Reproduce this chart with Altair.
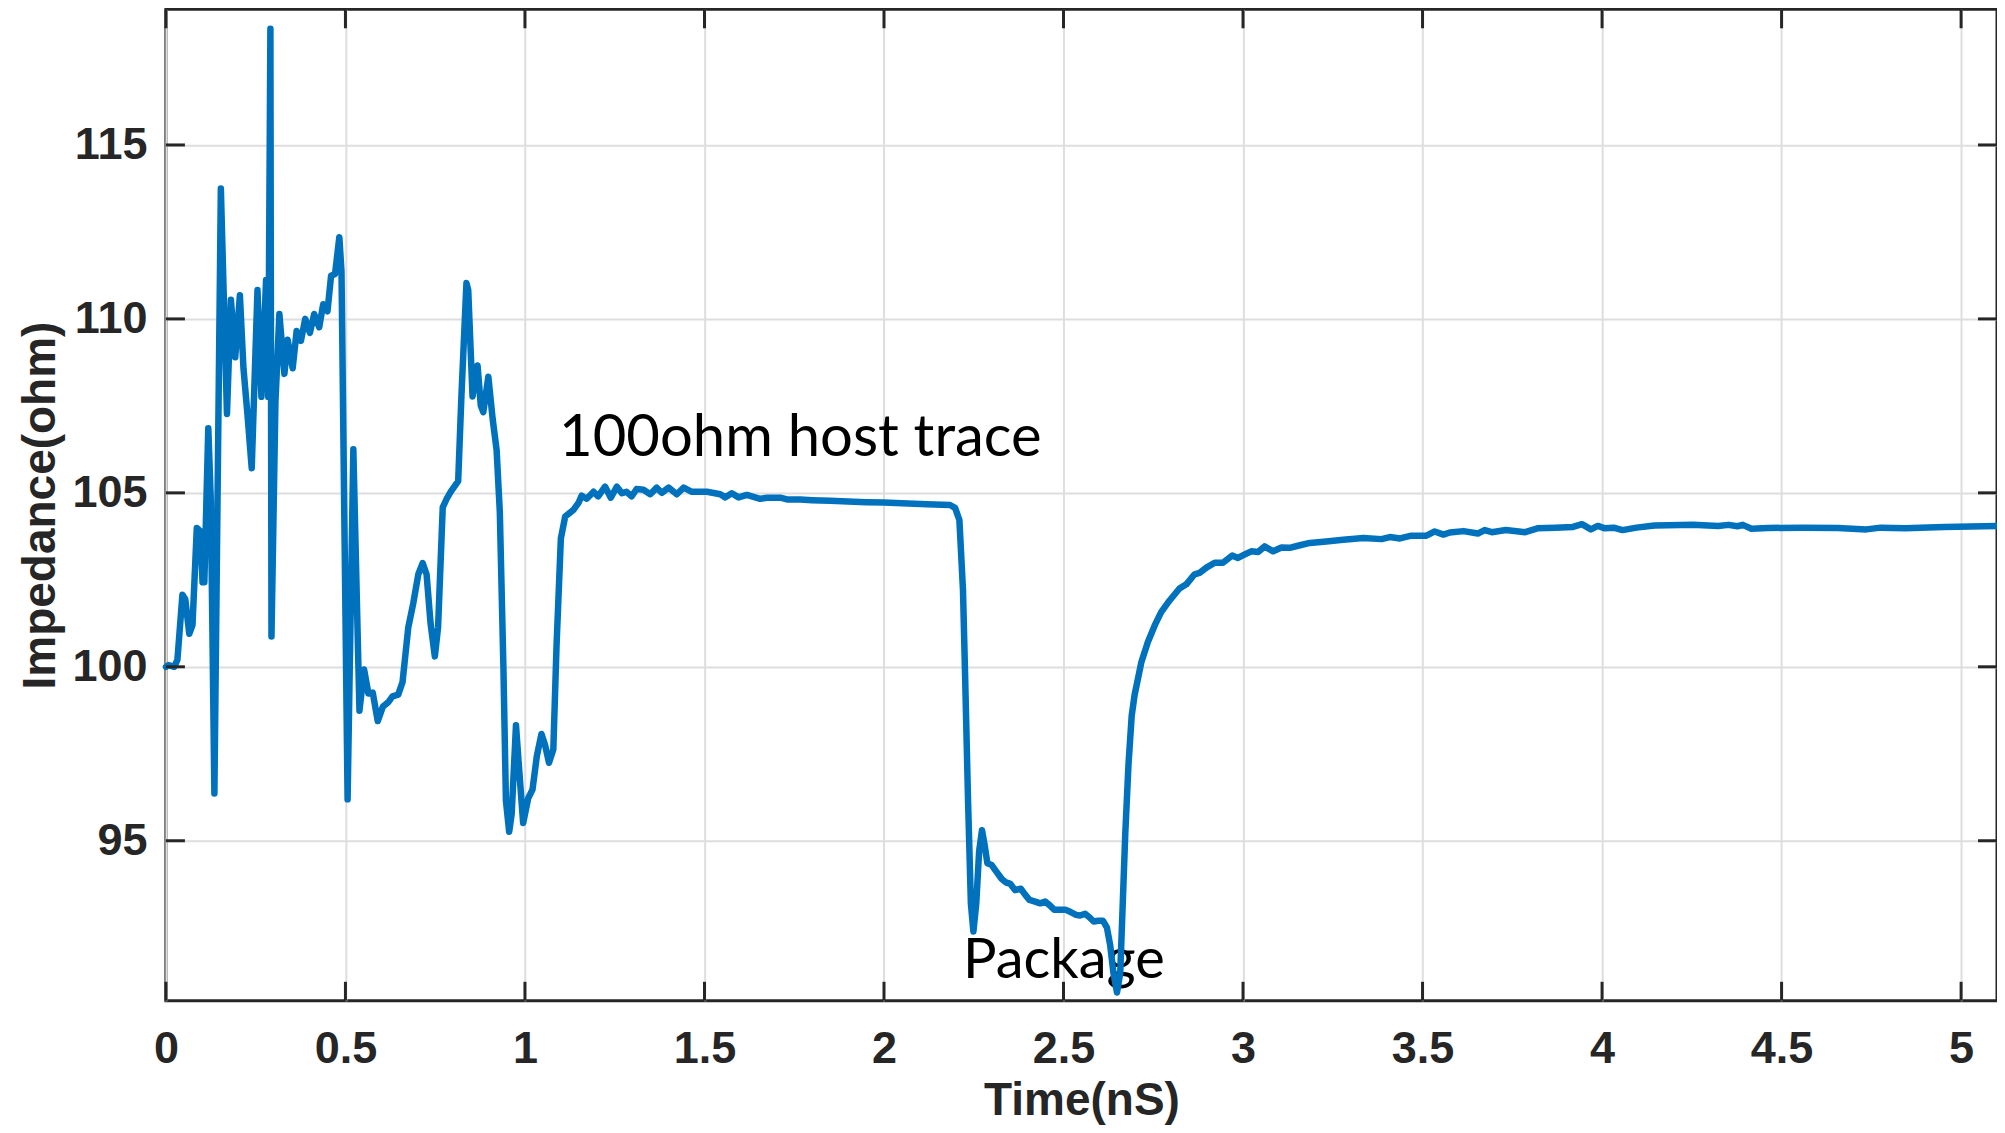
import altair as alt
import pandas as pd

# ---- data ----
time_ns = [
    0.000, 0.007, 0.023, 0.032, 0.046, 0.054, 0.065, 0.074, 0.086, 0.096,
    0.102, 0.107, 0.118, 0.125, 0.135, 0.153, 0.170, 0.181, 0.193, 0.206,
    0.216, 0.227, 0.239, 0.255, 0.266, 0.279, 0.285, 0.291, 0.294, 0.305,
    0.316, 0.330, 0.339, 0.353, 0.364, 0.376, 0.388, 0.401, 0.413, 0.427,
    0.438, 0.450, 0.460, 0.471, 0.483, 0.489, 0.506, 0.522, 0.539, 0.552,
    0.564, 0.576, 0.590, 0.604, 0.619, 0.631, 0.647, 0.659, 0.675, 0.689,
    0.703, 0.715, 0.726, 0.737, 0.749, 0.758, 0.771, 0.782, 0.793, 0.814,
    0.823, 0.837, 0.842, 0.854, 0.868, 0.877, 0.884, 0.898, 0.910, 0.921,
    0.930, 0.940, 0.947, 0.956, 0.963, 0.975, 0.983, 0.995, 1.009, 1.021,
    1.033, 1.046, 1.056, 1.067, 1.079, 1.088, 1.100, 1.112, 1.135, 1.149,
    1.158, 1.172, 1.191, 1.204, 1.223, 1.239, 1.256, 1.270, 1.283, 1.297,
    1.311, 1.330, 1.349, 1.367, 1.381, 1.400, 1.423, 1.442, 1.465, 1.507,
    1.544, 1.558, 1.576, 1.595, 1.618, 1.655, 1.674, 1.711, 1.730, 1.767,
    1.800, 1.850, 1.900, 1.950, 2.000, 2.050, 2.119, 2.184, 2.198, 2.210,
    2.220, 2.226, 2.234, 2.242, 2.249, 2.257, 2.265, 2.273, 2.280, 2.288,
    2.300, 2.314, 2.328, 2.340, 2.351, 2.365, 2.381, 2.393, 2.405, 2.421,
    2.435, 2.449, 2.461, 2.474, 2.489, 2.505, 2.520, 2.535, 2.546, 2.560,
    2.572, 2.584, 2.597, 2.610, 2.621, 2.630, 2.639, 2.649, 2.658, 2.665,
    2.672, 2.681, 2.690, 2.698, 2.717, 2.735, 2.754, 2.772, 2.795, 2.823,
    2.842, 2.865, 2.879, 2.898, 2.921, 2.944, 2.970, 2.986, 3.005, 3.023,
    3.042, 3.060, 3.084, 3.107, 3.130, 3.153, 3.186, 3.232, 3.279, 3.335,
    3.386, 3.409, 3.437, 3.469, 3.511, 3.534, 3.558, 3.576, 3.614, 3.654,
    3.673, 3.693, 3.732, 3.786, 3.820, 3.870, 3.919, 3.944, 3.969, 3.988,
    4.008, 4.032, 4.057, 4.096, 4.146, 4.254, 4.323, 4.352, 4.377, 4.392,
    4.416, 4.461, 4.559, 4.657, 4.736, 4.776, 4.844, 4.953, 5.100,
]
impedance_ohm = [
    100.00, 100.05, 100.00, 100.20, 102.07, 101.94, 100.95, 101.20, 103.99, 103.90,
    102.43, 102.43, 106.86, 104.80, 96.36, 113.75, 107.27, 110.55, 108.90, 110.68,
    108.58, 107.27, 105.71, 110.83, 107.76, 111.12, 107.76, 118.34, 100.87, 107.60,
    110.14, 108.42, 109.40, 108.58, 109.65, 109.37, 110.00, 109.60, 110.14, 109.76,
    110.42, 110.22, 111.24, 111.29, 112.35, 111.37, 96.19, 106.25, 98.74, 99.92,
    99.23, 99.26, 98.44, 98.85, 98.98, 99.15, 99.20, 99.56, 101.13, 101.83,
    102.66, 102.98, 102.66, 101.26, 100.30, 101.13, 104.58, 104.83, 105.03, 105.34,
    107.77, 111.03, 110.83, 107.77, 108.66, 107.51, 107.32, 108.34, 107.13, 106.24,
    104.45, 99.98, 96.15, 95.26, 95.77, 98.32, 97.17, 95.51, 96.22, 96.47,
    97.43, 98.07, 97.75, 97.24, 97.62, 100.62, 103.69, 104.32, 104.51, 104.71,
    104.92, 104.83, 105.03, 104.90, 105.18, 104.86, 105.18, 104.99, 105.03, 104.90,
    105.11, 105.09, 104.96, 105.15, 105.00, 105.15, 104.96, 105.15, 105.03, 105.03,
    104.96, 104.87, 104.99, 104.87, 104.94, 104.83, 104.86, 104.86, 104.81, 104.81,
    104.79, 104.77, 104.75, 104.73, 104.72, 104.70, 104.67, 104.65, 104.57, 104.22,
    102.21, 99.71, 96.20, 93.20, 92.39, 93.20, 94.70, 95.30, 94.90, 94.35,
    94.30, 94.10, 93.90, 93.80, 93.77, 93.58, 93.62, 93.45, 93.30, 93.25,
    93.20, 93.25, 93.15, 93.02, 93.02, 93.02, 92.95, 92.87, 92.85, 92.90,
    92.80, 92.68, 92.70, 92.70, 92.50, 92.00, 91.20, 90.64, 91.20, 93.20,
    95.20, 97.20, 98.60, 99.19, 100.14, 100.71, 101.19, 101.57, 101.90, 102.25,
    102.37, 102.66, 102.70, 102.85, 102.99, 102.99, 103.20, 103.13, 103.23, 103.32,
    103.30, 103.46, 103.32, 103.43, 103.42, 103.48, 103.56, 103.60, 103.65, 103.70,
    103.67, 103.73, 103.69, 103.77, 103.77, 103.89, 103.80, 103.86, 103.90, 103.83,
    103.93, 103.87, 103.93, 103.87, 103.98, 104.00, 104.02, 104.10, 103.95, 104.05,
    103.98, 104.00, 103.93, 104.00, 104.06, 104.08, 104.05, 104.08, 104.04, 104.08,
    103.97, 103.99, 104.00, 103.99, 103.95, 104.00, 103.98, 104.02, 104.05,
]
x_ticks = [0, 0.5, 1, 1.5, 2, 2.5, 3, 3.5, 4, 4.5, 5]
y_ticks = [95, 100, 105, 110, 115]
note_main_text = ["100ohm host trace"]
note_main_t = [1.095]
note_main_z = [106.06]
note_pkg_text = ["Package"]
note_pkg_t = [2.22]
note_pkg_z = [91.06]

# ---- chart ----
W, H = 1832, 992
DARK = "#262626"
GRID = "#dedede"
LABEL_FONT = "Liberation Sans"

df = pd.DataFrame({"t": time_ns, "z": impedance_ohm})
xs = alt.Scale(domain=[0, 5.1], nice=False, zero=False)
ys = alt.Scale(domain=[90.4, 118.9], nice=False, zero=False)

x_axis = alt.Axis(
    values=x_ticks, format="~g", title="Time(nS)", grid=True,
    gridColor=GRID, gridWidth=2, ticks=False, tickSize=0, domain=False,
    labelFont=LABEL_FONT, labelFontSize=45, labelFontWeight="bold",
    labelColor=DARK, labelPadding=26, labelFlush=False, labelOverlap=False,
    titleFont=LABEL_FONT, titleFontSize=46, titleFontWeight="bold",
    titleColor=DARK, titleBaseline="alphabetic", titleY=114,
)
y_axis = alt.Axis(
    values=y_ticks, format="~g", title="Impedance(ohm)", grid=True,
    gridColor=GRID, gridWidth=2, ticks=False, tickSize=0, domain=False,
    labelFont=LABEL_FONT, labelFontSize=45, labelFontWeight="bold",
    labelColor=DARK, labelPadding=19, labelFlush=False, labelOverlap=False,
    titleFont=LABEL_FONT, titleFontSize=46, titleFontWeight="bold",
    titleColor=DARK, titleBaseline="alphabetic", titleX=-111, titleY=H / 2,
    titleAlign="center",
)

line = alt.Chart(df).mark_line(
    color="#0072BD", strokeWidth=6.5, strokeJoin="round", strokeCap="round"
).encode(
    x=alt.X("t:Q", scale=xs, axis=x_axis),
    y=alt.Y("z:Q", scale=ys, axis=y_axis),
)

tx = pd.DataFrame({"t": x_ticks})
ty = pd.DataFrame({"z": y_ticks})
TL = 19
xb = alt.Chart(tx).mark_rule(color=DARK, strokeWidth=3).encode(
    x=alt.X("t:Q", scale=xs), y=alt.value(H), y2=alt.value(H - TL))
xt = alt.Chart(tx).mark_rule(color=DARK, strokeWidth=3).encode(
    x=alt.X("t:Q", scale=xs), y=alt.value(0), y2=alt.value(TL))
yl = alt.Chart(ty).mark_rule(color=DARK, strokeWidth=3).encode(
    y=alt.Y("z:Q", scale=ys), x=alt.value(0), x2=alt.value(TL))
yr = alt.Chart(ty).mark_rule(color=DARK, strokeWidth=3).encode(
    y=alt.Y("z:Q", scale=ys), x=alt.value(W), x2=alt.value(W - TL))

main_note = alt.Chart(pd.DataFrame({"t": note_main_t, "z": note_main_z, "s": note_main_text})).mark_text(
    align="left", baseline="alphabetic", font="Lato", fontSize=58, color="#000000"
).encode(x=alt.X("t:Q", scale=xs), y=alt.Y("z:Q", scale=ys), text="s:N")
pkg_note = alt.Chart(pd.DataFrame({"t": note_pkg_t, "z": note_pkg_z, "s": note_pkg_text})).mark_text(
    align="left", baseline="alphabetic", font="Lato", fontSize=56, color="#000000"
).encode(x=alt.X("t:Q", scale=xs), y=alt.Y("z:Q", scale=ys), text="s:N")

chart = alt.layer(main_note, pkg_note, line, xb, xt, yl, yr).properties(
    width=W, height=H,
    autosize=alt.AutoSizeParams(type="none"),
    padding={"left": 158, "top": 1, "right": 0, "bottom": 124},
    background="white",
).configure_view(stroke=DARK, strokeWidth=3)

chart.save("out.html", embed_options={"renderer": "svg", "actions": False})
